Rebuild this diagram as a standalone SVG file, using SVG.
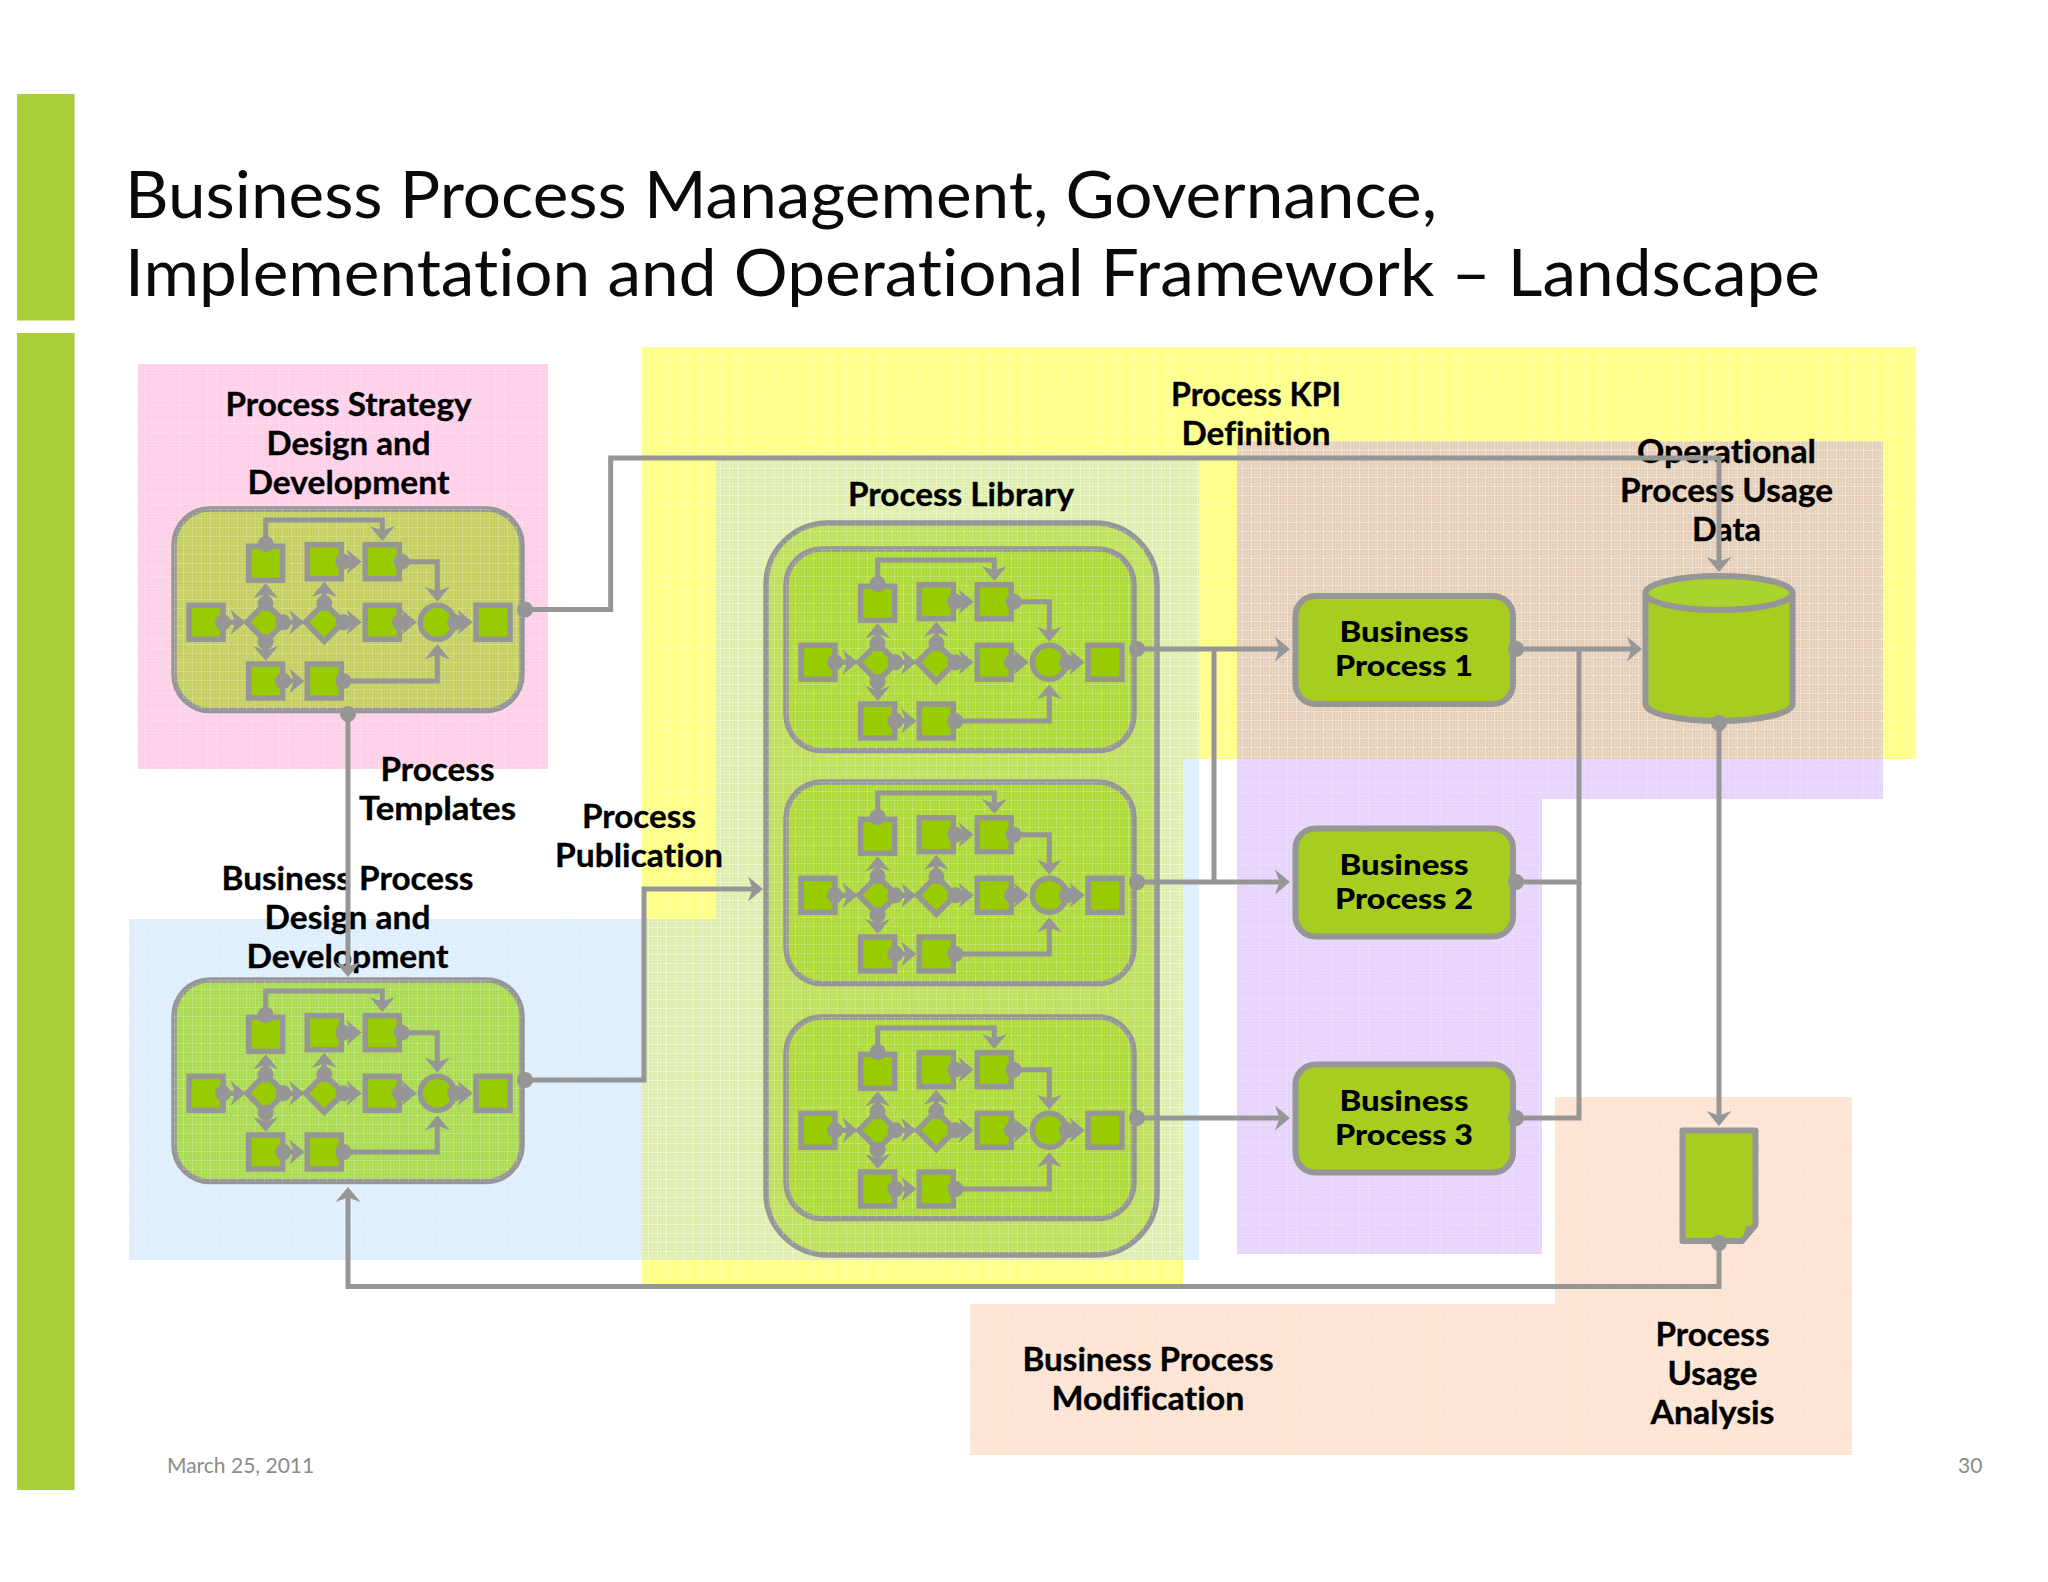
<svg xmlns="http://www.w3.org/2000/svg" width="2048" height="1582" viewBox="0 0 2048 1582">
<style>
text{font-family:Lato,"Liberation Sans",sans-serif;fill:#000;font-variant-ligatures:none}
.t{font-size:66px;font-weight:400;fill:#0a0a0a}
.l{font-size:33px;font-weight:700;text-anchor:middle;stroke:#000;stroke-width:.35}
.n{font-size:28px;font-weight:900;text-anchor:middle}
.f{font-size:21px;fill:#8b8b8b}
.c{fill:none;stroke:#969696;stroke-width:5;stroke-linejoin:miter;marker-start:url(#dot);marker-end:url(#arr)}
.ne{marker-end:url(#arr)}
.ns{marker-end:none;marker-start:none}
.sd{marker-end:none;marker-start:url(#dot)}
.sh{fill:#99cc00;stroke:#969696;stroke-width:5.500}
.box{stroke:#969696;stroke-width:5.500}
.bp{fill:#a6cd20;stroke:#969696;stroke-width:6}
</style>
<defs>
<pattern id="tex" width="9" height="9" patternUnits="userSpaceOnUse">
<path d="M0,0.5H9M0.5,0V9" stroke="#fff" stroke-opacity=".22" stroke-width="1" fill="none"/>
<path d="M3,3h1.5v1.5H3zM6,6h1.5v1.5H6zM6,3h1.5v1.5H6zM3,6h1.5v1.5H3z" fill="#fff" fill-opacity=".16"/>
</pattern>
<marker id="arr" markerUnits="userSpaceOnUse" markerWidth="22" markerHeight="30" refX="12" refY="13" orient="auto"><path d="M0,0.500L15,13L0,25.500L4.500,13Z" fill="#969696"/></marker>
<marker id="dot" markerUnits="userSpaceOnUse" markerWidth="20" markerHeight="20" refX="10" refY="10" orient="auto"><circle cx="10" cy="10" r="8" fill="#969696"/></marker>
<g id="flow">
<rect class="box" x="0" y="0" width="348" height="201.500" rx="36"/>
<rect x="0" y="0" width="348" height="201.500" rx="36" fill="url(#tex)"/>
<rect class="sh" x="74.700" y="37.300" width="34" height="34"/>
<rect class="sh" x="133.300" y="35.700" width="34" height="34"/>
<rect class="sh" x="191.300" y="35.700" width="34" height="34"/>
<rect class="sh" x="15" y="96.300" width="34" height="34"/>
<rect class="sh" x="191.300" y="96.300" width="34" height="34"/>
<rect class="sh" x="302" y="96.300" width="34" height="34"/>
<rect class="sh" x="74.700" y="155" width="34" height="34"/>
<rect class="sh" x="133.300" y="155" width="34" height="34"/>
<path class="sh" d="M91.700,94.300L110.700,113.300L91.700,132.300L72.700,113.300Z"/>
<path class="sh" d="M150.300,94.300L169.300,113.300L150.300,132.300L131.300,113.300Z"/>
<circle class="sh" cx="263.300" cy="113.300" r="17"/>
<g>
<path class="c" d="M49,113.300H68.700"/>
<path class="c" d="M91.700,94.300V77.300"/>
<path class="c" d="M91.700,132.700V149"/>
<path class="c" d="M109.300,113.300H127.300"/>
<path class="c" d="M150.300,94.300V75.700"/>
<path class="c" d="M169.300,113.300H184.700"/>
<path class="c" d="M226,113.300H239.700"/>
<path class="c" d="M281,113.300H295.700"/>
<path class="c" d="M169.300,52.700H184.700"/>
<path class="c" d="M109.300,172H127.300"/>
<path class="c" d="M91.700,35V11H208.300V29"/>
<path class="c" d="M227.700,52.700H263.300V89.700"/>
<path class="c" d="M169.300,172H263.300V138.300"/>
</g>
</g>
</defs>
<rect width="2048" height="1582" fill="#fff"/>
<g id="bars" fill="#a8cf38"><rect x="17" y="94" width="57.500" height="226.500"/><rect x="17" y="333" width="57.500" height="1157"/></g>
<g id="title">
<text class="t" x="125" y="218" textLength="1312" lengthAdjust="spacingAndGlyphs">Business Process Management, Governance,</text>
<text class="t" x="125" y="296" textLength="1695" lengthAdjust="spacingAndGlyphs">Implementation and Operational Framework – Landscape</text>
</g>
<g id="regions">
<path id="region-kpi" fill="#ffff88" d="M642,347H1916V759H1183V1284H642Z"/>
<path id="region-strategy" fill="#fdd0e8" d="M138,364H548V769H138Z"/>
<path id="region-design" fill="rgb(160,205,250)" fill-opacity=".34" d="M716,460H1199V1260H129V919H716Z"/>
<path id="region-usage" fill="#e7d4fb" d="M1237,759H1883V799H1542V1254H1237Z"/>
<path id="region-usage-top" fill="#e6cfb8" d="M1237,441H1883V759H1237Z"/>
<path id="region-mod" fill="#fde4d2" d="M1555,1097H1852V1455H970V1304H1555Z"/>
<path fill="url(#tex)" d="M642,347H1916V759H1183V1284H642Z"/>
<path fill="url(#tex)" d="M138,364H548V769H138Z"/>
<path fill="url(#tex)" d="M129,919H716V460H1199V1260H129Z"/>
<path fill="url(#tex)" d="M1237,441H1883V799H1542V1254H1237Z"/>
<path fill="url(#tex)" d="M1555,1097H1852V1455H970V1304H1555Z"/>
</g>
<g id="labels">
<g id="lbl-strategy"><text class="l" x="348.500" y="416" textLength="246" lengthAdjust="spacingAndGlyphs">Process Strategy</text><text class="l" x="348.500" y="455" textLength="164" lengthAdjust="spacingAndGlyphs">Design and</text><text class="l" x="348.500" y="494" textLength="202" lengthAdjust="spacingAndGlyphs">Development</text></g>
<g id="lbl-templates"><text class="l" x="437.500" y="781" textLength="114" lengthAdjust="spacingAndGlyphs">Process</text><text class="l" x="437.500" y="820" textLength="157" lengthAdjust="spacingAndGlyphs">Templates</text></g>
<g id="lbl-design"><text class="l" x="347.500" y="889.500" textLength="252" lengthAdjust="spacingAndGlyphs">Business Process</text><text class="l" x="347.500" y="928.500" textLength="166" lengthAdjust="spacingAndGlyphs">Design and</text><text class="l" x="347.500" y="967.500" textLength="202" lengthAdjust="spacingAndGlyphs">Development</text></g>
<g id="lbl-publication"><text class="l" x="639" y="828" textLength="114" lengthAdjust="spacingAndGlyphs">Process</text><text class="l" x="639" y="867" textLength="168" lengthAdjust="spacingAndGlyphs">Publication</text></g>
<g id="lbl-kpi"><text class="l" x="1256" y="406" textLength="170" lengthAdjust="spacingAndGlyphs">Process KPI</text><text class="l" x="1256" y="445" textLength="149" lengthAdjust="spacingAndGlyphs">Definition</text></g>
<g id="lbl-library"><text class="l" x="961" y="506" textLength="226" lengthAdjust="spacingAndGlyphs">Process Library</text></g>
<g id="lbl-opdata"><text class="l" x="1726.500" y="463" textLength="179" lengthAdjust="spacingAndGlyphs">Operational</text><text class="l" x="1726.500" y="502" textLength="213" lengthAdjust="spacingAndGlyphs">Process Usage</text><text class="l" x="1726.500" y="541" textLength="69" lengthAdjust="spacingAndGlyphs">Data</text></g>
<g id="lbl-mod"><text class="l" x="1148" y="1371" textLength="251" lengthAdjust="spacingAndGlyphs">Business Process</text><text class="l" x="1148" y="1410" textLength="193" lengthAdjust="spacingAndGlyphs">Modification</text></g>
<g id="lbl-analysis"><text class="l" x="1712.500" y="1346" textLength="114" lengthAdjust="spacingAndGlyphs">Process</text><text class="l" x="1712.500" y="1385" textLength="90" lengthAdjust="spacingAndGlyphs">Usage</text><text class="l" x="1712.500" y="1424" textLength="124" lengthAdjust="spacingAndGlyphs">Analysis</text></g>
</g>
<g id="library"><rect class="box" x="766" y="523" width="391" height="732" rx="62" fill="#bfe05e"/><rect x="766" y="523" width="391" height="732" rx="62" fill="url(#tex)"/></g>
<g id="strategy-flow" transform="translate(174,509)" fill="#c6cf62"><use href="#flow"/></g>
<g id="design-flow" transform="translate(174,980)" fill="#aadb52"><use href="#flow"/></g>
<g id="lib-flow-1" transform="translate(786,549)" fill="#aedb3a"><use href="#flow"/></g>
<g id="lib-flow-2" transform="translate(786,782)" fill="#aedb3a"><use href="#flow"/></g>
<g id="lib-flow-3" transform="translate(786,1017)" fill="#aedb3a"><use href="#flow"/></g>
<g id="bp1"><rect class="bp" x="1295.500" y="596" width="217.500" height="108" rx="20"/><text class="n" x="1404" y="642" textLength="129" lengthAdjust="spacingAndGlyphs">Business</text><text class="n" x="1404" y="676" textLength="138" lengthAdjust="spacingAndGlyphs">Process 1</text></g>
<g id="bp2"><rect class="bp" x="1295.500" y="828.500" width="217.500" height="108" rx="20"/><text class="n" x="1404" y="874.500" textLength="129" lengthAdjust="spacingAndGlyphs">Business</text><text class="n" x="1404" y="908.500" textLength="138" lengthAdjust="spacingAndGlyphs">Process 2</text></g>
<g id="bp3"><rect class="bp" x="1295.500" y="1064.500" width="217.500" height="108" rx="20"/><text class="n" x="1404" y="1110.500" textLength="129" lengthAdjust="spacingAndGlyphs">Business</text><text class="n" x="1404" y="1144.500" textLength="138" lengthAdjust="spacingAndGlyphs">Process 3</text></g>
<g id="database"><path class="bp" d="M1645.500,593V704A73.500,17 0 0 0 1792.500,704V593"/><ellipse cx="1719" cy="593" rx="73.500" ry="17" fill="#a9d42c" stroke="#969696" stroke-width="6"/></g>
<g id="document"><path class="bp" stroke-linejoin="round" d="M1682.500,1130.500H1755.500V1225L1742,1241H1682.500Z"/><path d="M1746,1226h9l-12,14z" fill="#969696"/></g>
<g id="connectors">
<path class="c" d="M525,609.500H610.700V458H1719V569"/>
<path class="c" d="M348,714V974"/>
<path class="c" d="M525,1080H644V889H760"/>
<path class="c" d="M1137,649H1287"/>
<path class="c" d="M1137,882H1287"/>
<path class="c" d="M1137,1118H1287"/>
<path class="c ns" d="M1214,649V882"/>
<path class="c" d="M1516,649H1639"/>
<path class="c sd" d="M1516,882H1579V649"/>
<path class="c sd" d="M1516,1118H1579V882"/>
<path class="c" d="M1719,723V1123"/>
<path class="c" d="M1719,1243V1286.500H348V1190"/>
</g>
<g id="footer"><text class="f" x="167" y="1473">March 25, 2011</text><text class="f" x="1958" y="1473">30</text></g>
</svg>
